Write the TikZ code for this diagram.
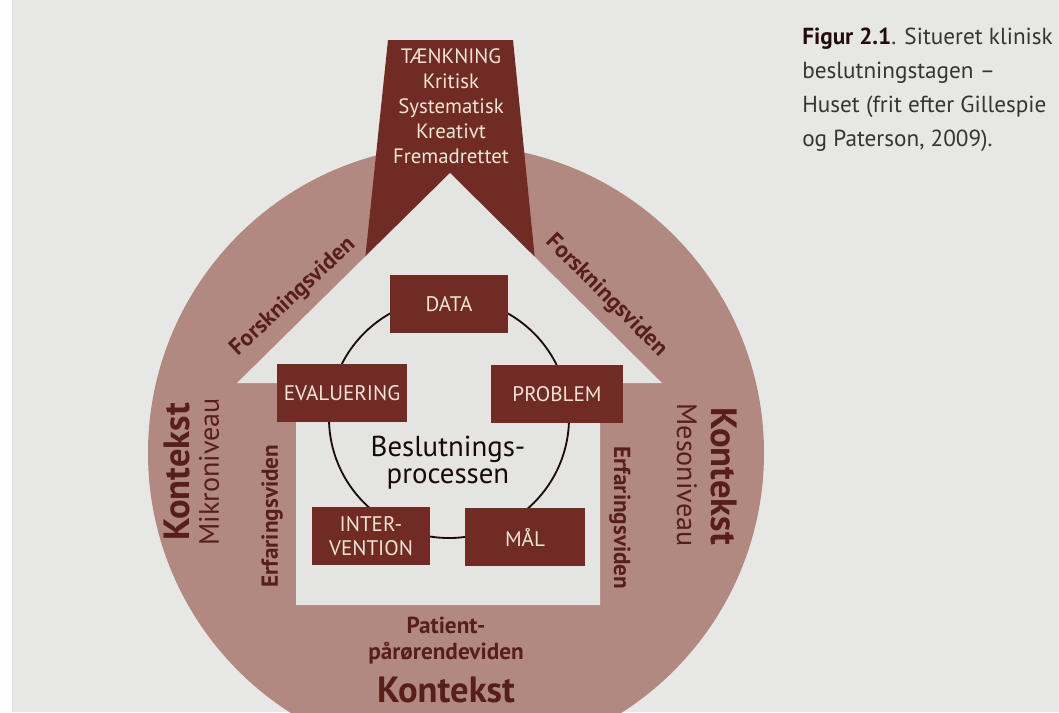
\documentclass[tikz,border=0pt]{standalone}
\usepackage{fontspec}
\setmainfont{PT Sans}
\usepackage{tikz}

\definecolor{page}{RGB}{231,231,229}
\definecolor{rose}{RGB}{178,137,129}
\definecolor{roof}{RGB}{112,43,36}
\definecolor{housewhite}{RGB}{228,228,227}
\definecolor{cream}{RGB}{240,228,214}
\definecolor{ink}{RGB}{88,30,24}
\definecolor{capink}{RGB}{55,52,52}

\begin{document}
\begin{tikzpicture}[x=0.025cm,
					y=-0.025cm,
					box node/.style={fill=roof,text=cream,font=\fontsize{15}{16.5}\selectfont,
						minimum height=1.43cm,inner sep=2pt,align=center},
					wall text/.style={text=ink,font=\bfseries\fontsize{16.5}{18.5}\selectfont,align=center},
					ctx text/.style={text=ink,font=\bfseries\fontsize{26}{28}\selectfont},
					level text/.style={text=ink,font=\fontsize{20}{22}\selectfont}]

  \useasboundingbox (0,0) rectangle (1059,712);
  \clip (0,0) rectangle (1059,712);
  \fill[page] (0,0) rectangle (1059,712);
  \fill[white!95!page] (0,0) rectangle (12,712);

  % circle, chimney and house
  \fill[rose] (456,453) circle[radius=308];
  \fill[roof] (388,40) -- (513,40) -- (536,270) -- (364,270) -- cycle;
  \fill[housewhite] (237,383) -- (450,173) -- (662,383) -- (600,383)
    -- (600,605) -- (296,605) -- (296,383) -- cycle;

  \node[text=cream,font=\fontsize{14.8}{17.8}\selectfont,align=center] (thinking)
    at (451,106) {TÆNKNING\\Kritisk\\Systematisk\\Kreativt\\Fremadrettet};

  % the process ring
  \coordinate (ring) at (449,418);
  \draw[line width=1.3pt,black!75!roof] (ring) circle[radius=120];

  \node[box node,minimum width=2.93cm] (data) at (449,304) {DATA};
  \node[box node,minimum width=3.25cm] (evaluering) at (342,393) {EVALUERING};
  \node[box node,minimum width=3.28cm] (problem) at (557,394) {PROBLEM};
  \node[box node,minimum width=2.95cm,font=\fontsize{15}{17.5}\selectfont] (intervention)
    at (371,536) {INTER-\\VENTION};
  \node[box node,minimum width=3.0cm] (maal) at (525,537) {MÅL};

  \node[text=black!80!roof,font=\fontsize{20.5}{19}\selectfont,align=center] (process)
    at (448,463) {Beslutnings-\\processen};

  % texts on the circle
  \node[wall text,rotate=43] (research left) at (293,297) {Forskningsviden};
  \node[wall text,rotate=-45] (research right) at (606,296) {Forskningsviden};
  \node[wall text,rotate=90] (experience left) at (272,516) {Erfaringsviden};
  \node[wall text,rotate=-90] (experience right) at (620,518) {Erfaringsviden};
  \node[wall text] (patient) at (446,641) {Patient-\\pårørendeviden};

  \node[ctx text,rotate=90] (context left) at (177,472) {Kontekst};
  \node[level text,rotate=90] (micro) at (209,472) {Mikroniveau};
  \node[ctx text,rotate=-90] (context right) at (724,476) {Kontekst};
  \node[level text,rotate=-90] (meso) at (687,475) {Mesoniveau};
  \node[ctx text] (context bottom) at (446,690) {Kontekst};

  \node[anchor=north west,inner sep=0pt,text=capink,font=\fontsize{16.5}{19.5}\selectfont,align=left] (caption)
    at (802,28) {{\bfseries\color{black!70!roof}Figur 2.1}. Situeret klinisk\\[4.5pt]beslutningstagen –\\[4.5pt]Huset (frit efter Gillespie\\[4.5pt]og Paterson, 2009).};
\end{tikzpicture}
\end{document}
